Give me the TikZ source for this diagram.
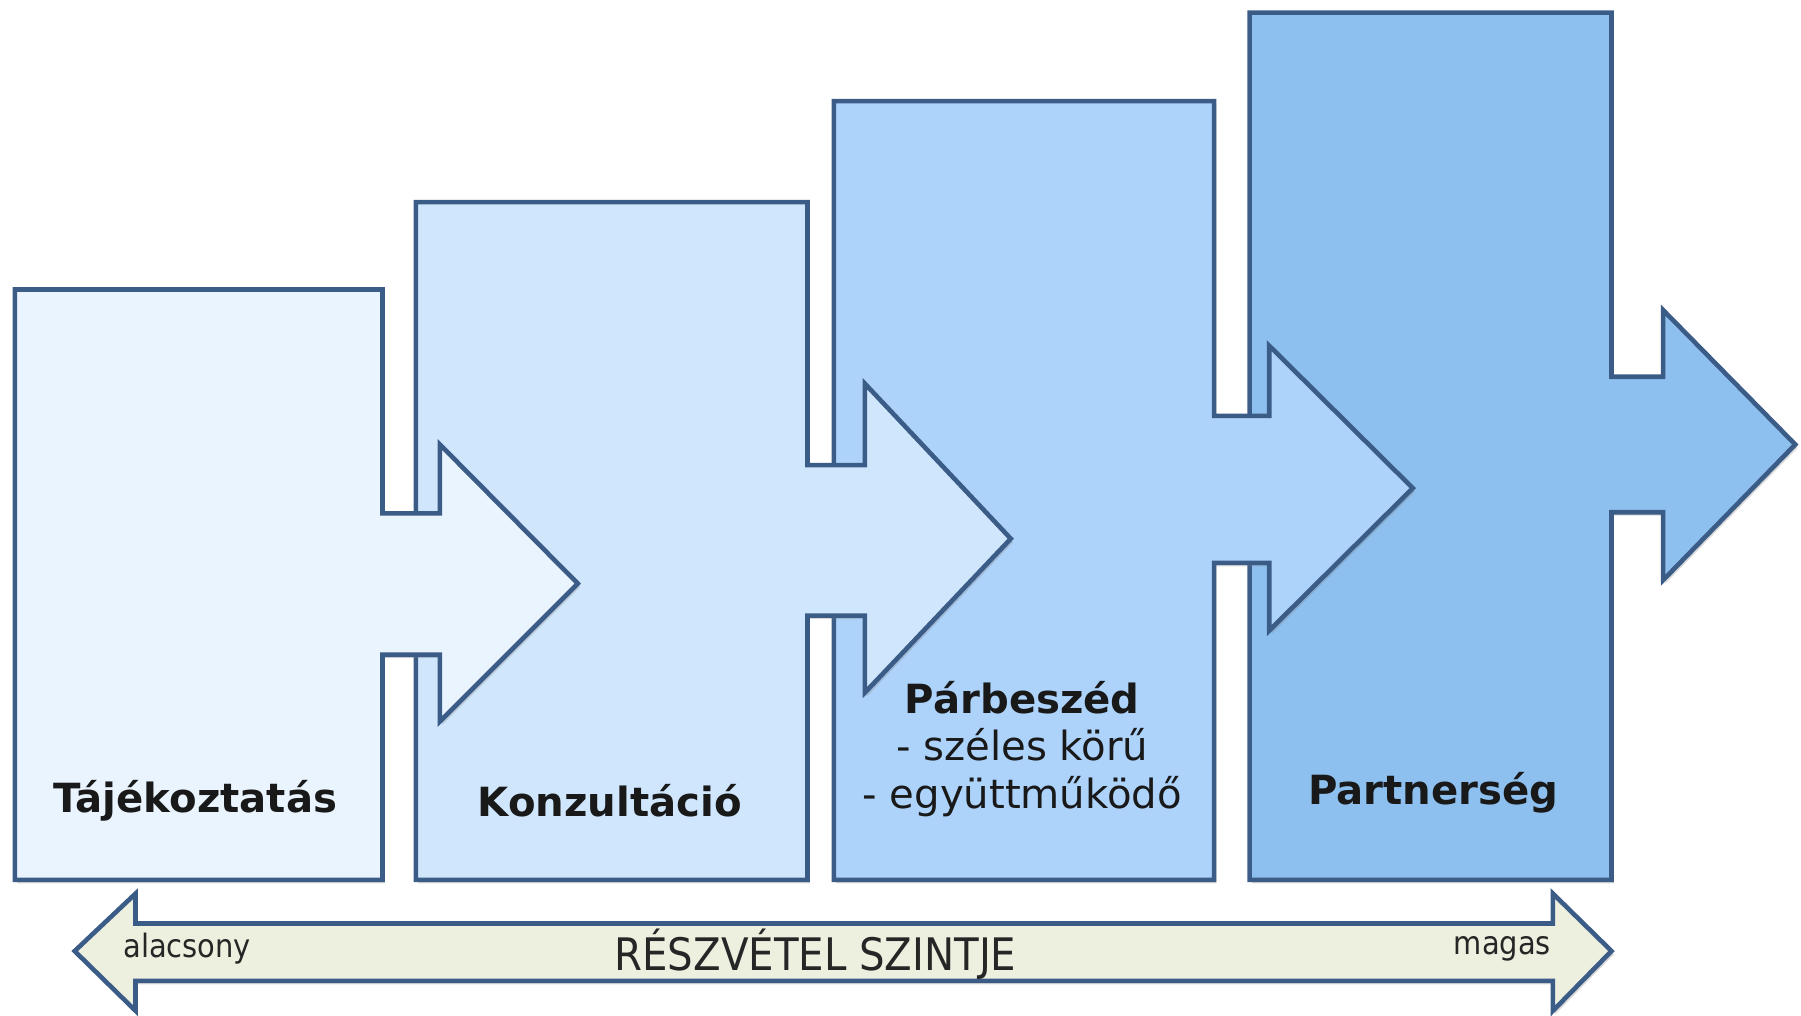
\documentclass[tikz,border=0pt]{standalone}
\usepackage{fontspec}
\setmainfont{DejaVu Sans}
\newfontfamily\condfont{DejaVu Sans Condensed}
\usetikzlibrary{shadows}
\definecolor{edgeblue}{RGB}{60,92,136}
\definecolor{stepone}{RGB}{234,244,254}
\definecolor{steptwo}{RGB}{208,230,252}
\definecolor{stepthree}{RGB}{173,211,251}
\definecolor{stepfour}{RGB}{141,192,239}
\definecolor{scalefill}{RGB}{237,240,223}
\tikzset{
  stepshape/.style={draw=edgeblue, line width=4pt, line join=miter,
    drop shadow={shadow xshift=2pt, shadow yshift=-3pt, opacity=.3}},
  steplabel/.style={font=\fontsize{35}{41.5}\selectfont, text=black!90, align=center},
  boldlabel/.style={steplabel, font=\fontsize{35}{41.5}\selectfont\bfseries},
  scalelabel/.style={font=\condfont\fontsize{28}{32}\selectfont, text=black!85}
}
\begin{document}
\begin{tikzpicture}[x=1pt,y=-1pt]
\useasboundingbox (0,0) rectangle (1568,884);
\draw[stepshape, fill=stepfour] (1088,11)--(1403,11)--(1403,328)--(1448,328)--(1448,270)--(1563,387)--(1448,505)--(1448,446)--(1403,446)--(1403,766)--(1088,766)--cycle;
\draw[stepshape, fill=stepthree] (726,88)--(1057,88)--(1057,362)--(1105,362)--(1105,301)--(1230,425)--(1105,549)--(1105,490)--(1057,490)--(1057,766)--(726,766)--cycle;
\draw[stepshape, fill=steptwo] (362,176)--(703,176)--(703,405)--(753,405)--(753,334)--(880,469)--(753,603)--(753,536)--(703,536)--(703,766)--(362,766)--cycle;
\draw[stepshape, fill=stepone] (13,252)--(333,252)--(333,447)--(383,447)--(383,387)--(503,508)--(383,628)--(383,570)--(333,570)--(333,766)--(13,766)--cycle;
\draw[stepshape, fill=scalefill] (65,828)--(118,778)--(118,804)--(1352,804)--(1352,778)--(1403,828)--(1352,880)--(1352,854)--(118,854)--(118,880)--cycle;
\node[boldlabel] (tajek) at (170,697) {Tájékoztatás};
\node[boldlabel] (konz) at (531,697) {Konzultáció};
\node[steplabel] (parb) at (890,652) {\textbf{Párbeszéd}\\- széles körű\\- együttműködő};
\node[boldlabel] (partner) at (1248,690) {Partnerség};
\node[scalelabel] (low) at (163,826) {alacsony};
\node[scalelabel, font=\condfont\fontsize{39}{44}\selectfont] (title) at (710,831) {RÉSZVÉTEL SZINTJE};
\node[scalelabel] (high) at (1308,826) {magas};
\end{tikzpicture}
\end{document}
